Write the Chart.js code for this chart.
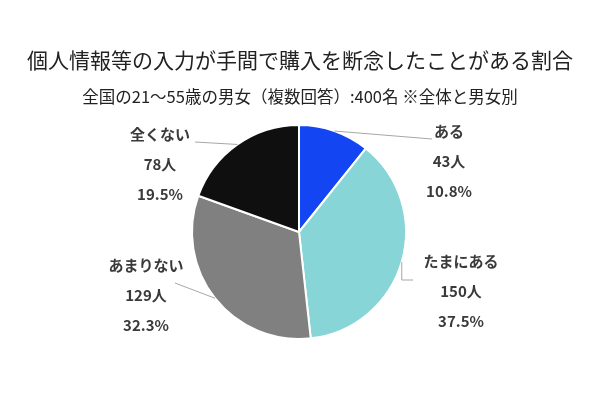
<!DOCTYPE html>
<html>
<head>
<meta charset="utf-8">
<script src="https://cdn.jsdelivr.net/npm/chart.js@4"></script>
<style>
  html, body { margin: 0; padding: 0; background: #fff; }
  #wrap { width: 600px; height: 399px; position: relative; }
</style>
</head>
<body>
<div id="wrap"><canvas id="pieChart"></canvas></div>
<script>
const title = '個人情報等の入力が手間で購入を断念したことがある割合';
const subtitle = '全国の21～55歳の男女（複数回答）:400名 ※全体と男女別';
const categories = ['ある', 'たまにある', 'あまりない', '全くない'];
const counts = [43, 150, 129, 78];
const percents = ['10.8%', '37.5%', '32.3%', '19.5%'];
const sliceColors = ['#1346f2', '#88d5d8', '#808080', '#0f0f0f'];

// label text centre and leader line points, relative to the pie centre
const labelLayout = [
    { text: [150, -101], line: [[133, -93]] },
    { text: [162, 29], line: [[105, 48], [114, 48]], elbow: true },
    { text: [-153, 33], line: [[-124, 51]] },
    { text: [-139, -98], line: [[-104, -90]] }
];

const JP_FONT = '"Noto Sans CJK JP", "Noto Sans", sans-serif';

const calloutPlugin = {
    id: 'callouts',
    afterDraw(chart) {
        const ctx = chart.ctx;
        const meta = chart.getDatasetMeta(0);

        ctx.save();
        // title + subtitle
        ctx.fillStyle = '#222';
        ctx.textAlign = 'center';
        ctx.textBaseline = 'middle';
        ctx.font = '21px ' + JP_FONT;
        ctx.fillText(title, 300, 60);
        ctx.font = '16.5px ' + JP_FONT;
        ctx.fillText(subtitle, 300, 97);

        meta.data.forEach((arc, i) => {
            const { x, y, startAngle, endAngle, outerRadius } = arc.getProps(
                ['x', 'y', 'startAngle', 'endAngle', 'outerRadius'], true);
            const mid = (startAngle + endAngle) / 2;
            const sx = x + Math.cos(mid) * outerRadius;
            const sy = y + Math.sin(mid) * outerRadius;
            const lay = labelLayout[i];

            // leader line
            ctx.strokeStyle = '#a6a6a6';
            ctx.lineWidth = 1;
            ctx.beginPath();
            ctx.moveTo(sx, sy);
            if (lay.elbow) {
                ctx.lineTo(sx, y + lay.line[0][1]);
            }
            lay.line.forEach(p => ctx.lineTo(x + p[0], y + p[1]));
            ctx.stroke();

            // three lines of text
            const tx = x + lay.text[0];
            const ty = y + lay.text[1];
            ctx.fillStyle = '#3a3a3a';
            ctx.font = 'bold 15px ' + JP_FONT;
            ctx.fillText(categories[i], tx, ty);
            ctx.fillText(counts[i] + '人', tx, ty + 30);
            ctx.fillText(percents[i], tx, ty + 60);
        });
        ctx.restore();
    }
};

new Chart(document.getElementById('pieChart'), {
    type: 'pie',
    data: {
        labels: categories,
        datasets: [{
            data: counts,
            backgroundColor: sliceColors,
            borderColor: '#ffffff',
            borderWidth: 2
        }]
    },
    options: {
        responsive: true,
        maintainAspectRatio: false,
        animation: false,
        layout: {
            padding: { top: 124, bottom: 59, left: 100, right: 102 }
        },
        plugins: {
            legend: { display: false },
            tooltip: { enabled: false }
        }
    },
    plugins: [calloutPlugin]
});
</script>
</body>
</html>
